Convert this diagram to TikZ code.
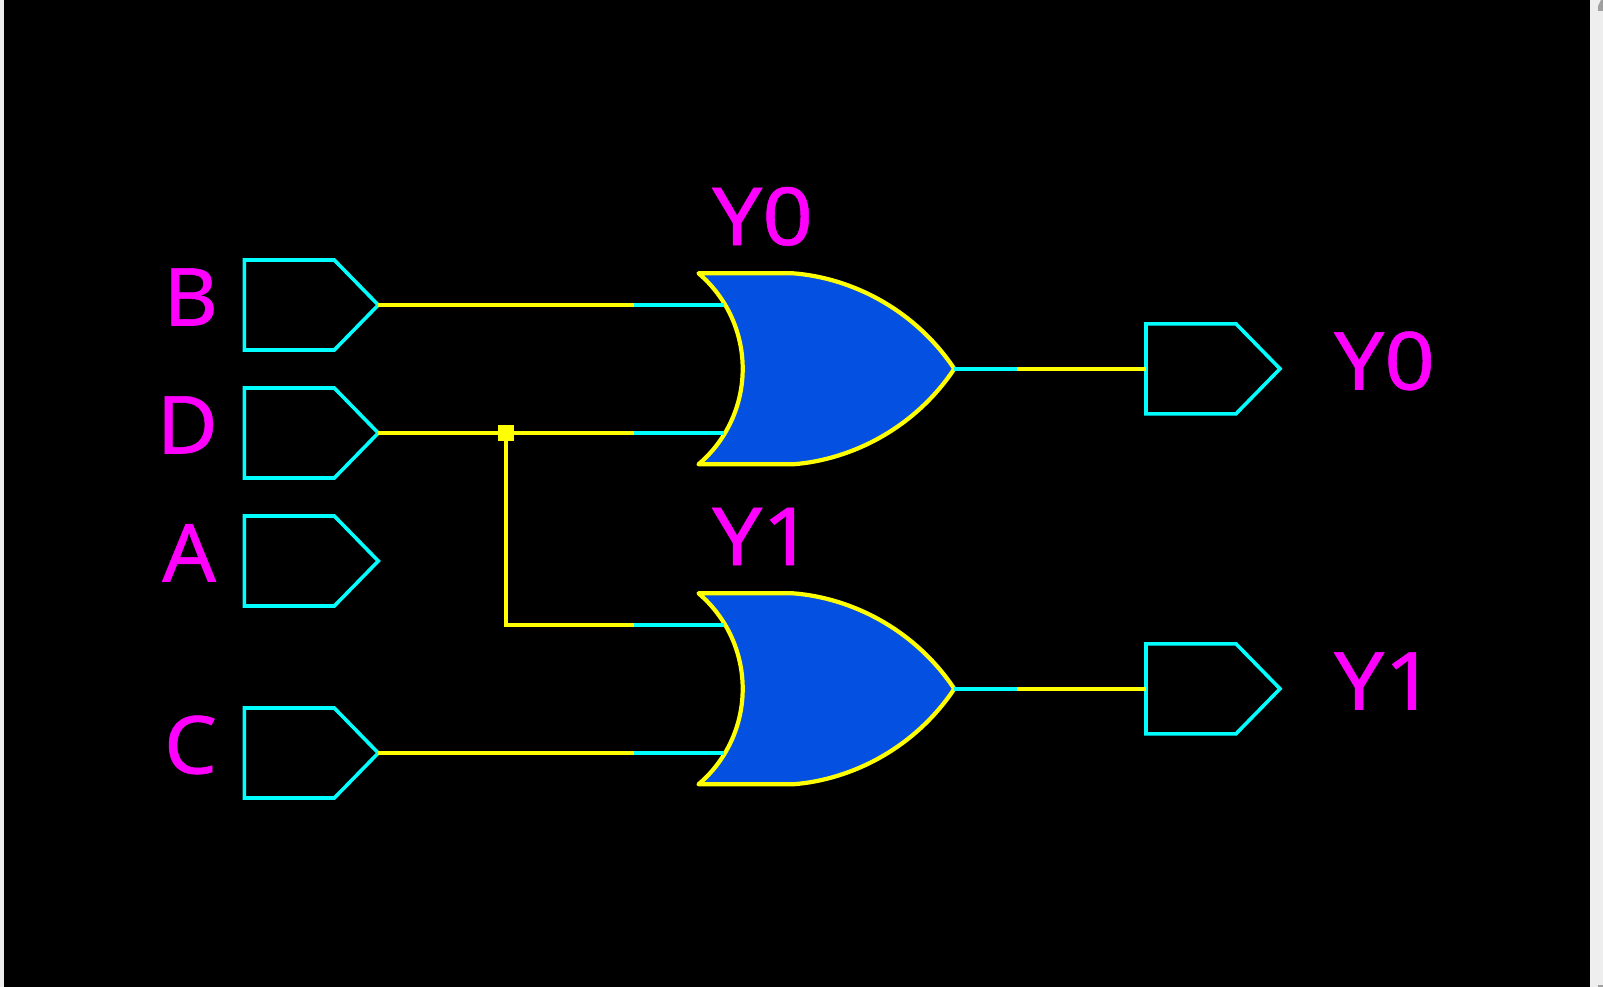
\documentclass[tikz,border=0pt]{standalone}
\usepackage{fontspec}
\newfontfamily\gatefont[FakeStretch=1.11,FakeBold=0.7]{Noto Sans}
\newfontfamily\portfont[FakeStretch=1.05,FakeBold=0.7]{Noto Sans}
\tikzset{
  x=1pt,y=-1pt,
  wire/.style={draw={rgb,255:red,255;green,255;blue,0},line width=3.6pt},
  gatebody/.style={draw={rgb,255:red,255;green,255;blue,0},fill={rgb,255:red,4;green,80;blue,225},line width=4.2pt,line join=round},
  stub/.style={draw={rgb,255:red,0;green,255;blue,255},line width=3.6pt},
  portbody/.style={draw={rgb,255:red,0;green,255;blue,255},line width=3.6pt,line join=miter},
  label/.style={inner sep=0pt,outer sep=0pt,text={rgb,255:red,255;green,0;blue,255}},
  gatelabel/.style={label,font=\gatefont\fontsize{80}{80}\selectfont},
  portlabel/.style={label,font=\portfont\fontsize{80}{80}\selectfont},
  junction/.style={fill={rgb,255:red,255;green,255;blue,0},draw=none,minimum size=16pt,inner sep=0pt,rectangle},
}
\newcommand{\portshape}[3]{% name, left x, centre y
  \coordinate (#1tip) at (#2+134,#3);
  \draw[portbody] (#2,#3-45) -- (#2+90,#3-45) -- (#1tip) -- (#2+90,#3+45) -- (#2,#3+45) -- cycle;
}
\newcommand{\orshape}[2]{% name, centre y
  \coordinate (#1tip) at (954.3,#2);
  \coordinate (#1a) at (724,#2-63.8);
  \coordinate (#1b) at (724,#2+64.2);
  \draw[gatebody] (698.5,#2-95.5) -- (793,#2-95.5)
    .. controls (852,#2-91) and (915,#2-59) .. (#1tip)
    .. controls (915,#2+59) and (852,#2+91) .. (793,#2+95.5)
    -- (698.5,#2+95.5)
    .. controls (726.6,#2+71.7) and (742.7,#2+36.7) .. (742.7,#2)
    .. controls (742.7,#2-36.7) and (726.6,#2-71.7) .. cycle;
}
\begin{document}
\begin{tikzpicture}
\useasboundingbox (0,0) rectangle (1603,987);
\fill[fill={rgb,255:red,238;green,238;blue,238}] (0,0) rectangle (1603,987);
\fill[black] (4,0) rectangle (1590,987);
\fill[fill={rgb,255:red,160;green,160;blue,160}] (1603,0) -- (1603,11) -- (1598,11) -- (1598,6) -- (1601,0) -- cycle;
\fill[fill={rgb,255:red,160;green,160;blue,160}] (1598,985) rectangle (1603,987);

\coordinate (cB) at (634,305);
\coordinate (cD) at (634,433);
\coordinate (cE) at (634,625);
\coordinate (cC) at (634,753);
\coordinate (cO0) at (1017,368.8);
\coordinate (cO1) at (1017,688.8);
\coordinate (corner) at (506,625);
\coordinate (pO0) at (1146,368.8);
\coordinate (pO1) at (1146,688.8);

\orshape{g0}{368.8}
\orshape{g1}{688.8}

\portshape{B}{244.3}{305}
\portshape{D}{244.3}{433}
\portshape{A}{244.3}{561}
\portshape{C}{244.3}{753}
\portshape{P}{1146}{368.8}
\portshape{Q}{1146}{688.8}

\node[junction] (j) at (506,433) {};

\draw[wire] (Btip) -- (cB);
\draw[stub] (cB) -- (g0a);
\draw[wire] (Dtip) -- (cD);
\draw[stub] (cD) -- (g0b);
\draw[wire] (j.center) -- (corner) -- (cE);
\draw[stub] (cE) -- (g1a);
\draw[wire] (Ctip) -- (cC);
\draw[stub] (cC) -- (g1b);
\draw[stub] (g0tip) -- (cO0);
\draw[wire] (cO0) -- (pO0);
\draw[stub] (g1tip) -- (cO1);
\draw[wire] (cO1) -- (pO1);

\node[portlabel,anchor=base east] (lB) at (218,325.5) {B};
\node[portlabel,anchor=base east] (lD) at (218,453.5) {D};
\node[portlabel,anchor=base east] (lA) at (216,581.5) {A};
\node[portlabel,anchor=base east] (lC) at (217,773.5) {C};
\node[gatelabel,anchor=base west] (lg0) at (712,245) {Y0};
\node[gatelabel,anchor=base west] (lg1) at (712,565) {Y1};
\node[gatelabel,anchor=base west] (lo0) at (1334,389.5) {Y0};
\node[gatelabel,anchor=base west] (lo1) at (1334,709.5) {Y1};
\end{tikzpicture}
\end{document}
